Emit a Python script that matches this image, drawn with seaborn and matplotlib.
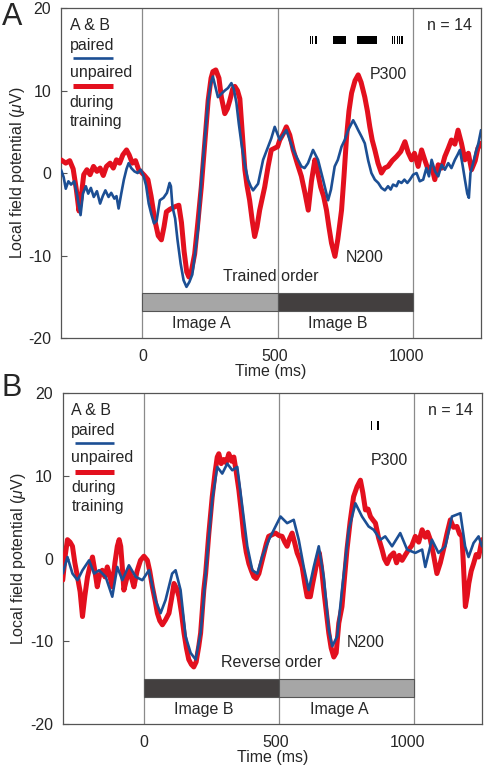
import numpy as np
import matplotlib
matplotlib.use("Agg")
import matplotlib.pyplot as plt
import seaborn as sns

# ---- panel A: trained order (time in ms, potential in uV)
a_red_t = [-308, -290, -275, -262, -250, -240, -232, -222, -210, -198, -185, -172, -160, -148, -136,
           -122, -110, -98, -86, -74, -60, -50, -38, -26, -14, -4, 8, 21, 33, 47, 60, 72, 82, 91, 104,
           122, 138, 148, 158, 168, 176, 186, 198, 210, 223, 236, 249, 260, 267, 278, 290, 299, 312,
           322, 331, 342, 350, 360, 369, 380, 388, 396, 406, 416, 425, 434, 444, 454, 463, 476, 488,
           500, 512, 520, 534, 545, 558, 571, 586, 602, 616, 628, 640, 653, 663, 675, 686, 697, 706,
           716, 729, 740, 754, 763, 773, 782, 792, 805, 817, 828, 842, 852, 861, 870, 880, 892, 905,
           917, 930, 946, 962, 978, 994, 1006, 1019, 1030, 1044, 1057, 1070, 1082, 1095, 1107, 1120,
           1133, 1145, 1158, 1170, 1183, 1195, 1208, 1221, 1234, 1246, 1260, 1270, 1282]
a_red_v = [1.6, 1.2, 1.5, 0.5, -2.0, -4.6, -3.0, -0.2, 0.4, -0.2, 0.8, 0.2, 0.6, -0.3, 0.8,
           1.2, 0.6, 1.6, 1.2, 2.2, 2.8, 2.2, 1.2, 1.5, 0.4, 0.1, -0.3, -0.8, -2.8, -5.7, -7.6, -8.1,
           -6.5, -4.7, -4.4, -4.1, -3.9, -6.0, -9.5, -12.0, -12.6, -11.8, -9.8, -6.0, -1.7, 3.5, 8.8,
           11.5, 12.3, 12.5, 11.5, 9.2, 7.2, 7.8, 8.8, 10.2, 10.5, 10.0, 9.0, 4.0, 0.4, -1.5, -3.3,
           -5.8, -7.7, -6.5, -4.5, -3.0, -1.7, 0.8, 2.8, 3.0, 3.2, 4.0, 4.8, 5.6, 4.6, 2.8, 1.2, -0.4,
           -2.5, -4.5, -1.0, 1.6, 0.2, -1.7, -2.8, -4.5, -6.5, -8.5, -10.1, -8.0, -4.5, -0.5, 4.4,
           7.5, 9.7, 11.2, 11.9, 11.0, 9.2, 7.5, 5.6, 4.0, 2.8, 1.2, 0.0, 0.6, 0.8, 1.5, 2.0, 2.6,
           3.8, 2.5, 1.6, 2.4, 0.8, 2.8, 1.5, 0.4, 0.8, -0.8, 1.0, 0.6, 2.0, 3.0, 4.0, 3.5, 5.2, 3.6,
           1.6, 2.4, 0.4, 1.5, 3.0, 3.6]
a_blue_t = [-308, -298, -290, -280, -270, -258, -248, -234, -225, -214, -205, -195, -184, -172, -160,
            -150, -140, -128, -118, -106, -98, -90, -80, -70, -60, -52, -42, -30, -18, -6, 4, 14, 24,
            34, 44, 54, 66, 80, 93, 103, 108, 114, 124, 133, 145, 156, 167, 178, 189, 198, 212, 223,
            236, 249, 260, 267, 276, 286, 299, 312, 324, 337, 346, 356, 365, 375, 388, 400, 410, 419,
            438, 457, 476, 488, 501, 520, 532, 545, 558, 571, 586, 602, 614, 627, 646, 665, 684, 703,
            714, 728, 740, 754, 766, 779, 798, 808, 817, 830, 842, 855, 867, 880, 893, 905, 918, 930,
            940, 949, 962, 970, 981, 992, 1003, 1013, 1025, 1038, 1050, 1063, 1075, 1085, 1095, 1108,
            1120, 1133, 1145, 1158, 1170, 1183, 1193, 1202, 1212, 1221, 1230, 1236, 1242, 1252, 1262,
            1272, 1282]
a_blue_v = [0.4, -0.5, -1.9, -1.0, -1.4, -1.0, -2.5, -5.1, -2.5, -1.6, -2.5, -1.8, -2.9, -2.2, -3.7,
            -2.8, -2.1, -2.9, -2.4, -3.1, -2.8, -4.3, -2.5, -0.8, 0.5, 1.2, 0.6, 0.2, 0.0, 0.4, -0.3,
            -1.5, -3.7, -5.0, -6.1, -5.8, -3.3, -3.0, -2.4, -1.2, -1.6, -4.1, -5.5, -8.1, -11.0, -13.0,
            -13.8, -13.2, -12.3, -10.1, -6.5, -1.0, 4.0, 8.8, 11.0, 11.7, 10.5, 9.2, 9.6, 10.0, 10.3,
            10.9, 10.2, 8.5, 6.0, 3.6, 1.0, -0.8, -1.6, -2.1, -1.3, 1.6, 3.2, 4.2, 5.6, 4.0, 4.6, 5.2,
            4.0, 2.8, 1.8, 0.8, 0.6, 1.2, 2.8, 1.6, -0.8, -3.3, -2.0, 0.8, 1.6, 3.2, 4.0, 5.2, 6.4, 5.8,
            5.2, 4.4, 3.6, 1.5, 0.0, -0.8, -1.2, -1.8, -2.1, -1.6, -2.0, -1.4, -1.6, -1.0, -1.2, -0.8,
            -1.2, -0.8, -0.2, 0.0, -1.0, -0.8, 0.6, -0.4, 1.6, 0.2, -0.4, 1.0, 0.4, 1.2, 0.6, 1.6, 2.2,
            2.8, 1.0, -0.8, -2.5, -3.0, 0.0, 1.2, 2.5, 3.6, 5.2]

# ---- panel B: reverse order
b_red_t = [-308, -298, -290, -280, -271, -262, -252, -242, -233, -224, -214, -204, -195, -186, -177,
           -168, -158, -148, -139, -130, -120, -110, -101, -94, -88, -82, -76, -66, -57, -48, -38, -26,
           -13, 0, 13, 22, 32, 42, 51, 60, 70, 82, 95, 105, 114, 124, 133, 142, 152, 161, 170, 180,
           189, 198, 208, 215, 227, 234, 246, 259, 270, 278, 284, 293, 303, 312, 322, 332, 341, 350,
           360, 370, 379, 388, 398, 408, 417, 426, 436, 446, 455, 464, 473, 486, 499, 512, 524, 534,
           543, 552, 562, 571, 581, 590, 600, 610, 619, 631, 640, 650, 658, 665, 673, 682, 692, 701,
           710, 720, 729, 739, 751, 760, 770, 782, 795, 808, 821, 830, 840, 850, 859, 868, 878, 890,
           903, 912, 922, 934, 947, 958, 968, 979, 992, 1004, 1016, 1029, 1042, 1055, 1067, 1076,
           1086, 1098, 1111, 1124, 1136, 1149, 1162, 1174, 1187, 1197, 1206, 1212, 1219, 1226, 1232,
           1241, 1250, 1260, 1269, 1282]
b_red_v = [-2.6, 0.5, 2.3, 2.0, 1.5, -0.5, -2.2, -4.0, -7.0, -4.5, -2.2, -0.8, 0.2, -1.5, -3.4,
           -2.0, -1.4, -2.2, -1.0, -2.0, -3.4, -0.5, 1.5, 2.3, 1.5, -1.0, -3.8, -2.5, -1.4, -2.2, -3.4,
           -1.5, -0.2, 0.3, -0.2, -1.5, -3.4, -5.0, -6.6, -7.5, -8.0, -7.4, -6.6, -4.8, -3.0, -3.6,
           -4.6, -6.5, -9.0, -10.8, -12.2, -12.8, -13.1, -12.5, -10.6, -9.0, -3.8, -1.8, 3.0, 7.5,
           10.5, 12.3, 12.7, 11.5, 12.0, 11.6, 12.7, 11.8, 12.3, 10.5, 8.3, 5.5, 2.7, 0.8, -0.6, -1.5,
           -2.2, -2.4, -1.8, -0.5, 0.7, 1.8, 2.7, 2.9, 3.1, 2.8, 2.7, 2.0, 1.5, 2.4, 3.1, 2.0, 0.7,
           0.0, -1.0, -3.0, -4.6, -4.6, -3.0, -1.4, 0.0, 0.7, -1.0, -3.8, -6.5, -9.0, -10.8, -11.9,
           -11.4, -7.8, -5.8, -2.5, 1.1, 4.5, 7.5, 8.7, 9.5, 8.0, 5.9, 6.0, 5.1, 4.7, 4.3, 2.5, 1.1,
           0.0, -0.6, 0.3, 0.7, -0.5, 0.4, -0.2, 0.5, 1.1, 1.6, 2.7, 2.0, 3.5, 2.6, 3.2, 2.3, 0.5,
           -1.8, -0.5, 1.1, 3.0, 4.7, 3.8, 3.9, 3.0, 2.7, -1.0, -5.8, -4.5, -3.0, -1.5, -0.6, 0.5,
           0.2, 2.3]
b_blue_t = [-308, -290, -271, -252, -233, -208, -189, -170, -145, -120, -101, -82, -57, -31, -6, 19,
            44, 63, 82, 107, 120, 139, 158, 177, 196, 215, 222, 234, 246, 259, 278, 297, 316, 335,
            354, 373, 392, 411, 430, 448, 474, 499, 518, 543, 568, 587, 606, 625, 644, 663, 682, 701,
            714, 733, 751, 777, 802, 827, 852, 871, 897, 915, 941, 972, 998, 1029, 1055, 1067, 1092,
            1117, 1143, 1168, 1200, 1218, 1231, 1250, 1269, 1282]
b_blue_v = [-1.8, 0.2, -1.8, -2.6, -1.4, -0.2, -1.8, -1.4, -2.2, -4.6, -1.0, -2.6, -0.8, -2.2, -2.6,
            -1.4, -5.0, -6.6, -5.0, -1.8, -1.4, -3.8, -9.4, -11.4, -12.2, -9.0, -6.5, -1.8, 2.5, 7.1,
            11.1, 10.3, 11.5, 10.7, 11.1, 6.3, 1.5, -1.4, -1.8, 0.2, 2.3, 3.9, 5.1, 4.3, 4.7, 2.3,
            -1.0, -3.8, -1.0, 1.5, -2.2, -8.6, -10.6, -9.4, -3.8, 3.5, 6.7, 5.1, 3.9, 3.5, 2.3, 2.7,
            1.5, 3.1, 1.1, 0.7, 1.1, -1.0, 2.3, 0.7, 1.5, 5.1, 5.5, 1.5, 0.2, 1.9, 2.7, 1.5]

# significance marks (ms intervals)
a_sig = [(634, 637), (643, 646), (652, 660), (720, 770), (811, 890),
         (945, 948), (954, 957), (963, 966), (972, 975), (980, 985)]
b_sig = [(862, 865), (871, 874), (883, 892)]

stim_edges = [0, 512, 1024]
x_ticks = [0, 500, 1000]
y_ticks = [-20, -10, 0, 10, 20]

RED = "#e3101e"
BLUE = "#1c4f94"
LIGHT = "#a6a6a6"
DARK = "#433f3f"

sns.set_style("ticks")
plt.rcParams["font.family"] = ["Liberation Sans", "DejaVu Sans"]
plt.rcParams["axes.unicode_minus"] = False
plt.rcParams["mathtext.fontset"] = "custom"
plt.rcParams["mathtext.it"] = "Liberation Sans:italic"
plt.rcParams["mathtext.rm"] = "Liberation Sans"

fig = plt.figure(figsize=(4.85, 7.67), dpi=100)
ax_a = fig.add_axes([0.1258, 0.5593, 0.866, 0.4302])
ax_b = fig.add_axes([0.1293, 0.0561, 0.8645, 0.431])

FS = 11.5
RED_LW = 3.6
BLUE_LW = 1.9


def draw_panel(ax, red_t, red_v, blue_t, blue_v, sig, order_text, first, second):
    for e in stim_edges:
        ax.axvline(e, color="#8a8a8a", lw=0.9, zorder=1)
    sns.lineplot(x=red_t, y=red_v, ax=ax, color=RED, lw=RED_LW, estimator=None, sort=False, zorder=3)
    sns.lineplot(x=blue_t, y=blue_v, ax=ax, color=BLUE, lw=BLUE_LW, estimator=None, sort=False, zorder=4)

    # stimulus bars
    ax.broken_barh([(stim_edges[0], stim_edges[1] - stim_edges[0])], (-16.7, 2.2),
                   facecolors=first[1], edgecolors="#555555", lw=0.8, zorder=2)
    ax.broken_barh([(stim_edges[1], stim_edges[2] - stim_edges[1])], (-16.7, 2.2),
                   facecolors=second[1], edgecolors="#555555", lw=0.8, zorder=2)
    ax.text(225, -18.3, first[0], ha="center", va="center", fontsize=FS)
    ax.text(740, -18.3, second[0], ha="center", va="center", fontsize=FS)
    ax.text(485, -12.6, order_text, ha="center", va="center", fontsize=FS)

    # significance marks
    ax.broken_barh([(s, e - s) for s, e in sig], (15.6, 1.0), facecolors="black", lw=0, zorder=2)

    # legend block
    ax.text(-275, 17.9, "A & B", ha="left", va="center", fontsize=FS)
    ax.text(-275, 15.5, "paired", ha="left", va="center", fontsize=FS)
    ax.plot([-262, -112], [14.0, 14.0], color=BLUE, lw=BLUE_LW, solid_capstyle="butt")
    ax.text(-275, 12.2, "unpaired", ha="left", va="center", fontsize=FS)
    ax.plot([-262, -112], [10.5, 10.5], color=RED, lw=RED_LW, solid_capstyle="butt")
    ax.text(-275, 8.6, "during", ha="left", va="center", fontsize=FS)
    ax.text(-275, 6.3, "training", ha="left", va="center", fontsize=FS)

    ax.text(1248, 17.9, "n = 14", ha="right", va="center", fontsize=FS)
    ax.text(860, 11.9, "P300", ha="left", va="center", fontsize=FS)
    ax.text(770, -10.2, "N200", ha="left", va="center", fontsize=FS)

    ax.set_xlim(-308, 1282)
    ax.set_ylim(-20, 20)
    ax.set_xticks(x_ticks)
    ax.set_yticks(y_ticks)
    ax.set_yticklabels([str(v) for v in y_ticks])
    ax.tick_params(axis="y", direction="in", length=4, width=0.8, pad=7, labelsize=FS, color="#555555")
    ax.tick_params(axis="x", length=0, pad=8, labelsize=FS)
    ax.set_xlabel("Time (ms)", fontsize=FS, labelpad=0)
    ax.set_ylabel("Local field potential ($\\mathit{\\mu}$V)", fontsize=FS, labelpad=1)
    for sp in ax.spines.values():
        sp.set_visible(True)
        sp.set_color("#555555")
        sp.set_linewidth(0.9)


draw_panel(ax_a, a_red_t, a_red_v, a_blue_t, a_blue_v, a_sig, "Trained order",
           ("Image A", LIGHT), ("Image B", DARK))
draw_panel(ax_b, b_red_t, b_red_v, b_blue_t, b_blue_v, b_sig, "Reverse order",
           ("Image B", DARK), ("Image A", LIGHT))

fig.text(0.004, 0.997, "A", fontsize=22, ha="left", va="top")
fig.text(0.004, 0.514, "B", fontsize=22, ha="left", va="top")

fig.savefig("out.png", dpi=100)
